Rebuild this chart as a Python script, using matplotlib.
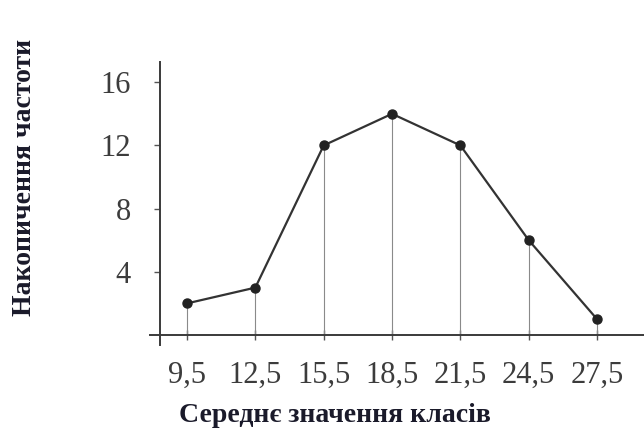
import matplotlib
matplotlib.use("Agg")
import matplotlib.pyplot as plt

class_mids = [9.5, 12.5, 15.5, 18.5, 21.5, 24.5, 27.5]
x_labels = ["9,5", "12,5", "15,5", "18,5", "21,5", "24,5", "27,5"]
frequencies = [2, 3, 12, 14, 12, 6, 1]
y_ticks = [4, 8, 12, 16]

serif = ["Liberation Serif", "DejaVu Serif"]

fig = plt.figure(figsize=(6.44, 4.33), dpi=100)
ax = fig.add_axes([150/644, 1 - 345/433, 494/644, 283/433])
ax.set_xlim(7.876, 29.56)
ax.set_ylim(-0.633, 17.28)

for s in ["top", "right"]:
    ax.spines[s].set_visible(False)
ax.spines["left"].set_position(("data", 8.315))
ax.spines["bottom"].set_position(("data", 0))
for s in ["left", "bottom"]:
    ax.spines[s].set_color("#3a3a3a")
    ax.spines[s].set_linewidth(1.4)

ax.vlines(class_mids, 0, frequencies, colors="#8a8a8a", linewidth=0.8)
ax.plot(class_mids, frequencies, color="#333333", linewidth=1.6,
        marker="o", markersize=6.5, markerfacecolor="#222222",
        markeredgecolor="#222222", zorder=3)

ax.set_xticks(class_mids)
ax.set_xticklabels(x_labels, fontfamily=serif, fontsize=22, color="#3c3c3c")
ax.set_yticks(y_ticks)
ax.set_yticklabels([str(v) for v in y_ticks], fontfamily=serif, fontsize=22,
                   color="#3c3c3c")
ax.tick_params(axis="x", direction="inout", length=7, width=1, pad=15,
               color="#555555")
ax.tick_params(axis="y", direction="out", length=4, width=1, pad=17,
               color="#555555")

fig.text(335/644, 1 - 416/433, "Середнє значення класів", fontfamily=serif,
         fontsize=20, fontweight="bold", color="#1a1a2a",
         ha="center", va="center")
fig.text(25/644, 1 - 177/433, "Накопичення частоти", fontfamily=serif,
         fontsize=20, fontweight="bold", color="#1a1a2a", rotation=90,
         ha="center", va="center")

fig.savefig("out.png", dpi=100, facecolor="white")
